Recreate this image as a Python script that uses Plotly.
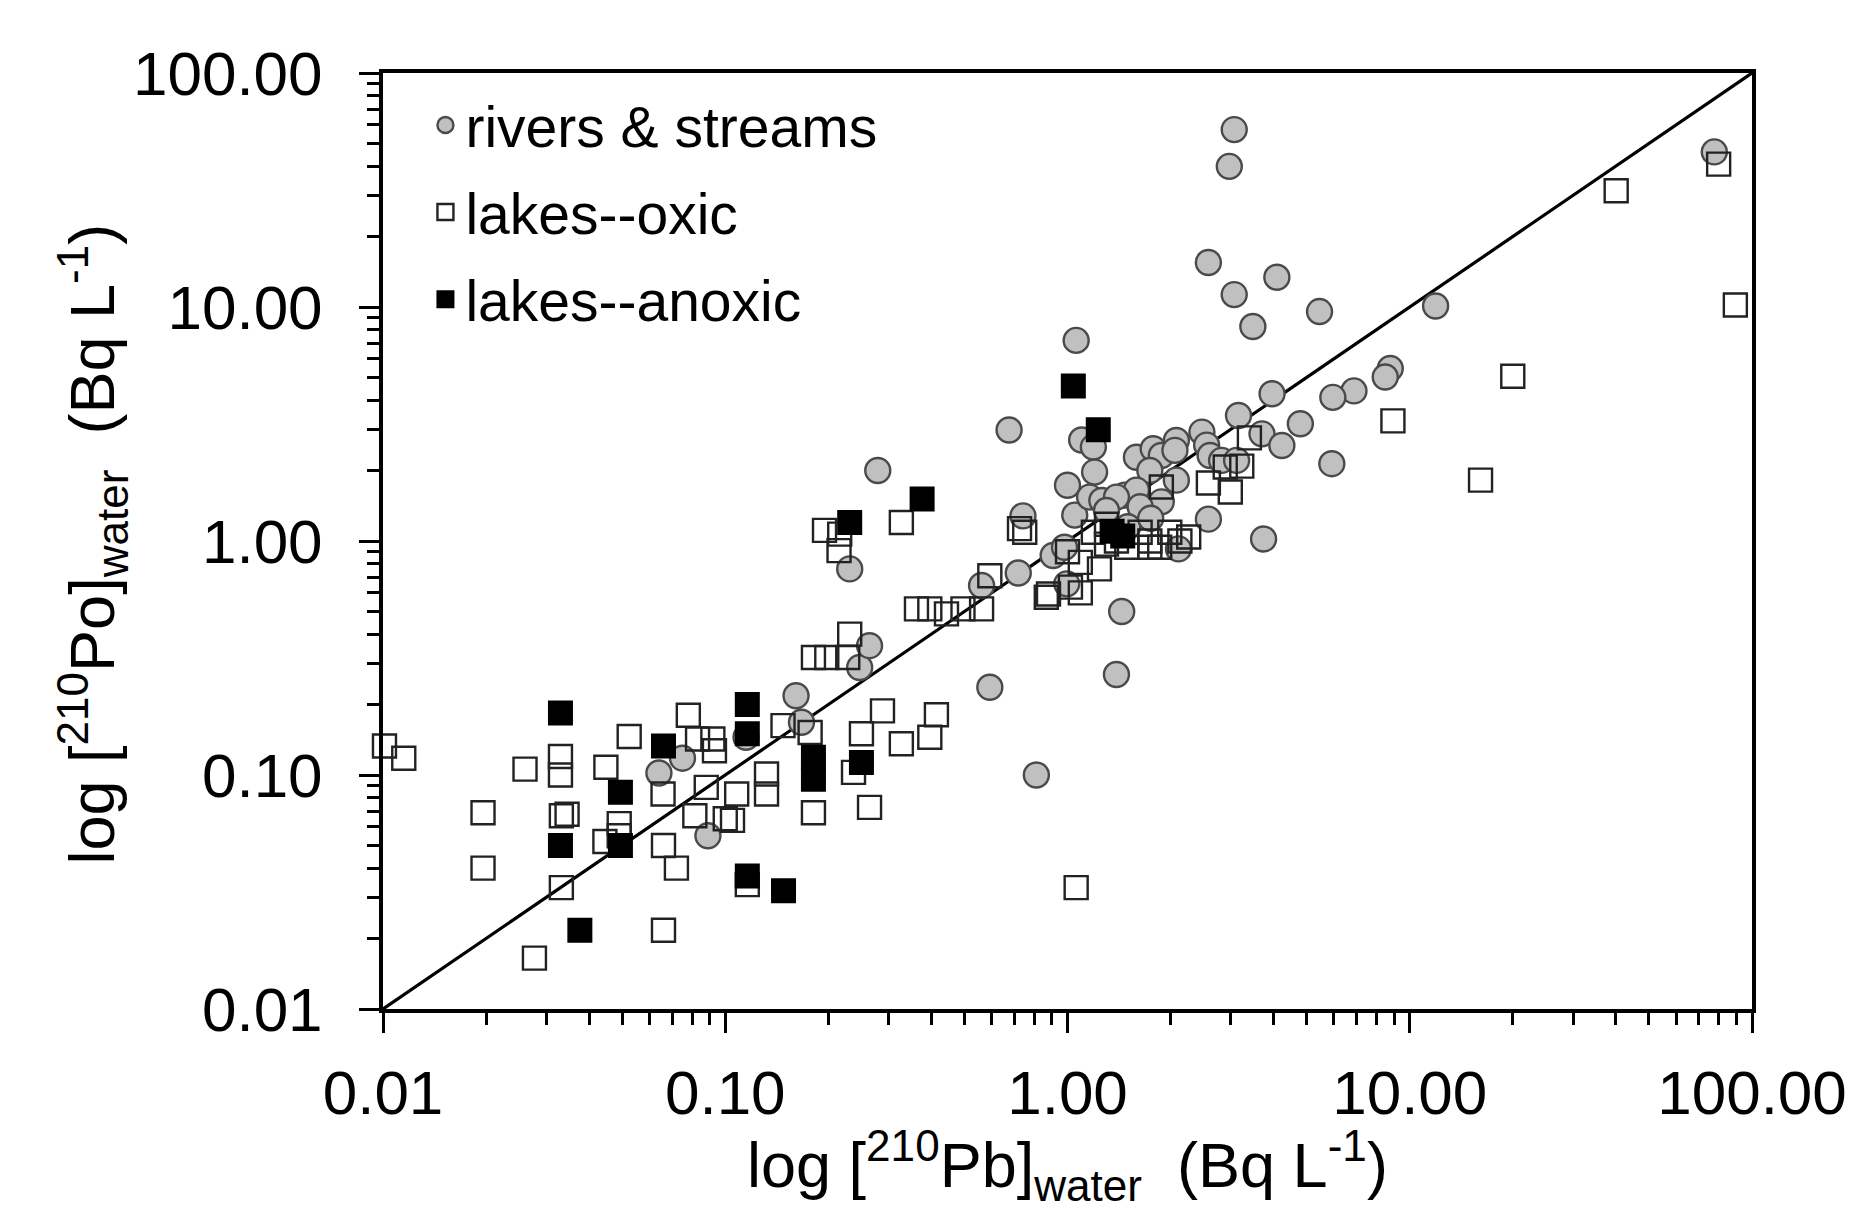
import plotly.graph_objects as go

# ---------------- data (Bq L-1) ----------------
rivers_pb = [0.064, 0.075, 0.089, 0.115, 0.161, 0.167, 0.247, 0.264, 0.231, 0.279,
             0.593, 0.811, 0.561, 0.718, 0.741, 0.675, 1.06, 1.10, 1.00, 1.05,
             0.908, 0.98, 0.995, 1.19, 1.20, 1.16, 1.26, 1.47, 1.59, 1.78,
             1.88, 2.08, 2.06, 2.47, 2.55, 2.61, 3.16, 3.96, 3.70, 4.23,
             2.82, 3.12, 1.74, 2.08, 1.88, 1.59, 1.39, 1.63, 2.58, 3.74,
             2.11, 1.44, 1.39, 1.50, 1.30, 1.75,
             3.07, 2.97, 2.58, 4.09, 3.07, 3.48, 5.45, 11.9, 8.77, 8.48,
             6.87, 5.96, 4.79, 5.92, 77.6]
rivers_po = [0.102, 0.118, 0.055, 0.145, 0.218, 0.168, 0.288, 0.357, 0.76, 2.0,
             0.237, 0.100, 0.645, 0.73, 1.28, 2.98, 7.2, 2.7, 1.73, 1.29,
             0.867, 0.94, 0.656, 2.52, 1.97, 1.54, 1.49, 1.57, 2.28, 2.48,
             2.32, 2.69, 2.44, 2.92, 2.57, 2.32, 3.44, 4.26, 2.87, 2.56,
             2.21, 2.21, 2.0, 1.82, 1.47, 1.65, 1.54, 1.40, 1.24, 1.02,
             0.925, 0.50, 0.269, 1.15, 1.35, 1.25,
             57.3, 39.9, 15.5, 13.4, 11.3, 8.25, 9.56, 10.1, 5.46, 5.02,
             4.38, 4.11, 3.17, 2.14, 46.0]

oxic_pb = [0.0101, 0.0115, 0.033, 0.033, 0.026, 0.0196, 0.0196, 0.0332, 0.0345, 0.0332,
           0.0277, 0.0524, 0.078, 0.0448, 0.049, 0.049, 0.0445, 0.0658, 0.066, 0.072,
           0.066, 0.083, 0.092, 0.093, 0.088, 0.0815, 0.100, 0.108, 0.105, 0.132,
           0.132, 0.116, 0.1475, 0.177, 0.181, 0.25, 0.288, 0.327, 0.396, 0.414,
           0.237, 0.264, 1.06,
           0.327, 0.195, 0.216, 0.215, 0.724, 0.75, 0.867, 0.593, 0.362, 0.396,
           0.443, 0.495, 0.561, 0.181, 0.198, 0.228, 0.231, 1.09, 1.24, 1.02,
           1.09, 0.88, 1.00,
           1.19, 1.30, 1.39, 1.49, 1.63, 1.74, 1.86, 1.99, 2.13, 2.26,
           1.30, 1.74, 1.88, 2.58, 2.99, 2.89, 3.23, 3.40,
           8.93, 20.0, 16.1, 40.1, 79.9, 89.4]
oxic_po = [0.133, 0.118, 0.12, 0.10, 0.106, 0.069, 0.040, 0.067, 0.068, 0.033,
           0.0165, 0.146, 0.180, 0.108, 0.062, 0.055, 0.052, 0.083, 0.050, 0.040,
           0.0217, 0.1426, 0.1426, 0.127, 0.0885, 0.067, 0.065, 0.083, 0.064, 0.101,
           0.083, 0.034, 0.1625, 0.152, 0.069, 0.150, 0.188, 0.136, 0.145, 0.181,
           0.1026, 0.0727, 0.033,
           1.20, 1.11, 1.07, 0.91, 1.13, 1.09, 0.575, 0.71, 0.513, 0.513,
           0.488, 0.513, 0.513, 0.318, 0.318, 0.318, 0.40, 0.81, 0.76, 0.635,
           0.60, 0.594, 0.90,
           1.09, 1.18, 1.00, 0.94, 1.09, 1.00, 0.94, 1.09, 1.00, 1.04,
           0.97, 0.94, 1.70, 1.77, 1.62, 2.07, 2.09, 2.76,
           3.26, 5.06, 1.82, 31.4, 40.8, 10.2]

anoxic_pb = [0.033, 0.033, 0.0376, 0.066, 0.0494, 0.0494, 0.116, 0.116, 0.181, 0.181,
             0.25, 0.116, 0.148, 0.231, 0.376, 1.04, 1.23, 1.45, 1.35]
anoxic_po = [0.184, 0.050, 0.0217, 0.133, 0.0843, 0.050, 0.20, 0.150, 0.119, 0.096,
             0.113, 0.037, 0.032, 1.20, 1.51, 4.6, 2.99, 1.05, 1.10]

one_to_one = [0.01, 100.0]

tick_vals = [0.01, 0.1, 1, 10, 100]
tick_text = ["0.01", "0.10", "1.00", "10.00", "100.00"]
minor_vals = [m * 10.0 ** k for k in range(-2, 2) for m in range(2, 10)]

FONT = "Liberation Sans, Arial, sans-serif"

fig = go.Figure()

fig.add_trace(go.Scatter(
    x=one_to_one, y=one_to_one, mode="lines",
    line=dict(color="black", width=3.2), showlegend=False, hoverinfo="skip"))

fig.add_trace(go.Scatter(
    x=rivers_pb, y=rivers_po, mode="markers", name="rivers & streams",
    legendgroup="a",
    marker=dict(symbol="circle", size=25, color="#c0c0c0",
                line=dict(color="#4a4a4a", width=2.4)),
    cliponaxis=False))

fig.add_trace(go.Scatter(
    x=oxic_pb, y=oxic_po, mode="markers", name="lakes--oxic",
    legendgroup="b",
    marker=dict(symbol="square", size=23, color="rgba(255,255,255,0)",
                line=dict(color="#222222", width=2.4)),
    cliponaxis=False))

fig.add_trace(go.Scatter(
    x=anoxic_pb, y=anoxic_po, mode="markers", name="lakes--anoxic",
    legendgroup="c",
    marker=dict(symbol="square", size=23, color="black",
                line=dict(color="black", width=2)),
    cliponaxis=False))

axis_common = dict(
    type="log", range=[-2, 2], showgrid=False, zeroline=False,
    showline=True, linecolor="black", linewidth=4, mirror=True,
    ticks="outside", ticklen=20, tickwidth=3, tickcolor="black",
    tickmode="array", tickvals=tick_vals, ticktext=tick_text,
    tickfont=dict(family=FONT, size=62, color="black"),
    minor=dict(ticks="outside", ticklen=12, tickwidth=3, tickcolor="black",
               tickmode="array", tickvals=minor_vals, showgrid=False),
)

fig.update_xaxes(**axis_common, ticklabelstandoff=7)
fig.update_yaxes(**axis_common, ticklabelstandoff=24)

fig.add_annotation(
    text="log [<sup>210</sup>Pb]<sub>water</sub>\u00a0\u00a0(Bq L<sup>-1</sup>)",
    xref="paper", yref="paper", x=0.5, y=-0.167, xanchor="center", yanchor="middle",
    showarrow=False, font=dict(family=FONT, size=63, color="black"))

fig.add_annotation(
    text="log [<sup>210</sup>Po]<sub>water</sub>\u00a0\u00a0(Bq L<sup>-1</sup>)",
    xref="paper", yref="paper", x=-0.212, y=0.497, xanchor="center", yanchor="middle",
    textangle=-90, showarrow=False, font=dict(family=FONT, size=63, color="black"))

fig.update_layout(
    width=1858, height=1208,
    margin=dict(l=375, r=114, t=65, b=207),
    paper_bgcolor="white", plot_bgcolor="white",
    font=dict(family=FONT, color="black"),
    legend=dict(x=0.031, y=0.991, xanchor="left", yanchor="top",
                bgcolor="rgba(0,0,0,0)", font=dict(family=FONT, size=57),
                tracegroupgap=10, itemsizing="trace"),
)

fig.write_html("out.html")
